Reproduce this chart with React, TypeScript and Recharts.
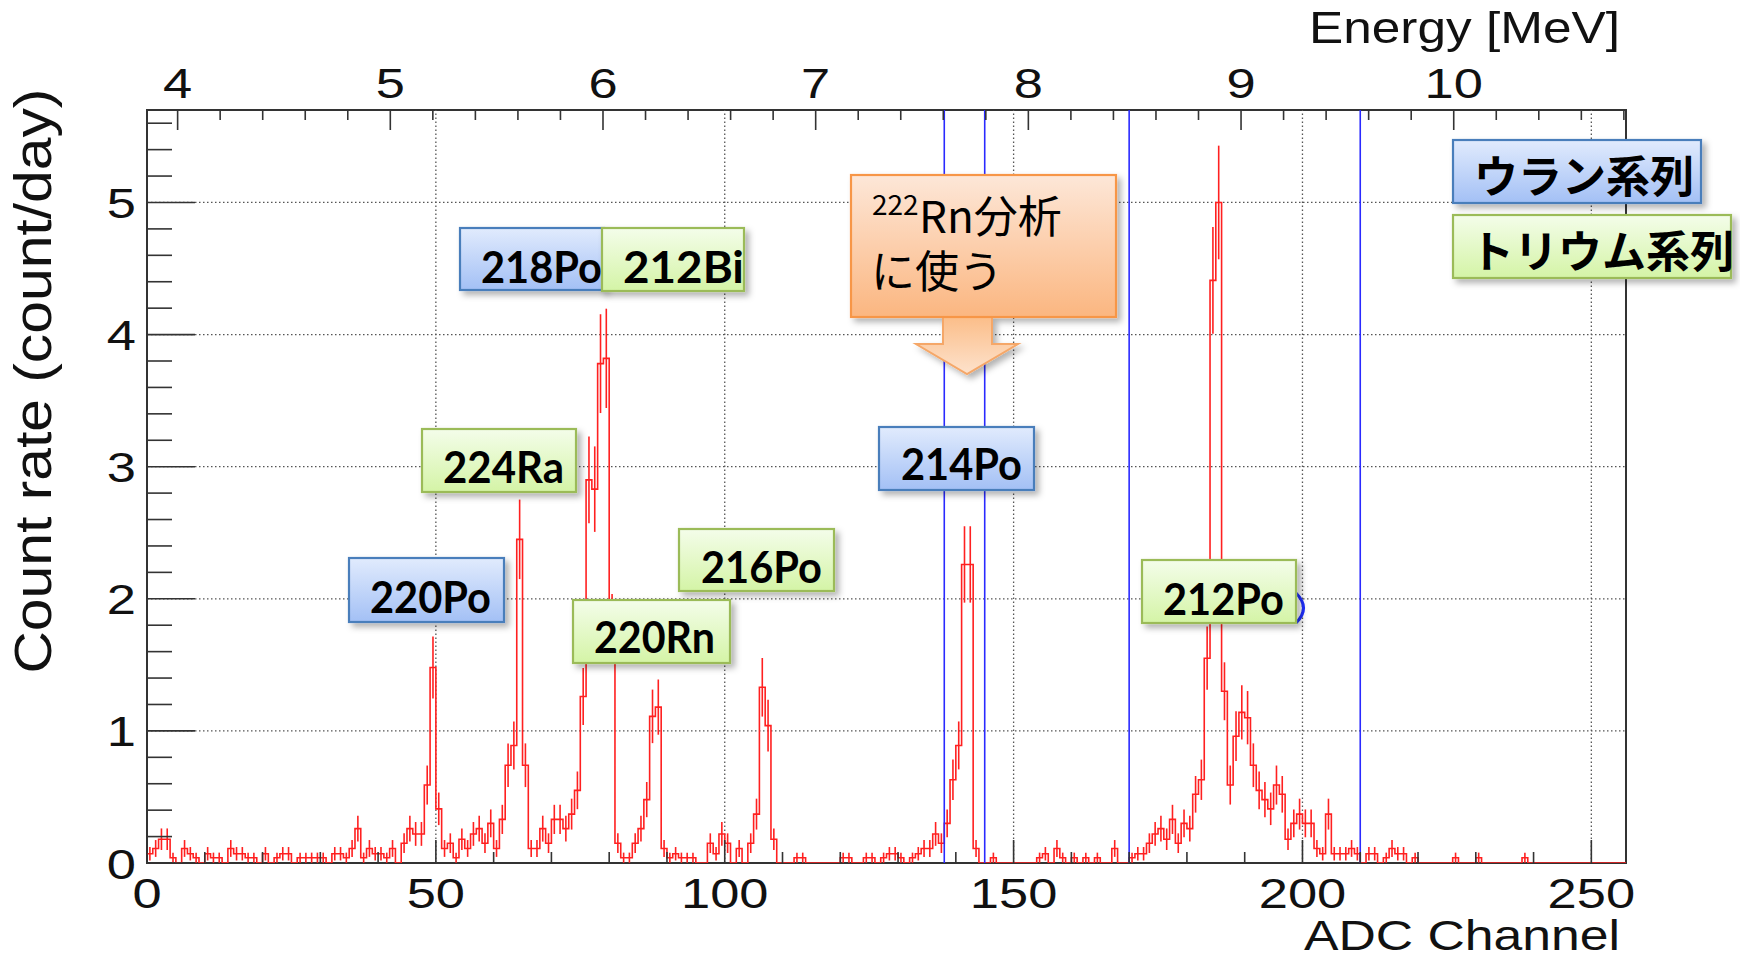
import React from 'react';
import {
  ComposedChart,
  Line,
  Scatter,
  ErrorBar,
  XAxis,
  YAxis,
  ReferenceLine,
  ReferenceArea,
} from 'recharts';

// ---- Data: count rate (count/day) per ADC channel bin ----
const ratesCh0to63 = [
  0.07, 0.11, 0.18, 0.18, 0.04, 0, 0.11, 0.07, 0.04, 0, 0.07, 0.04, 0.04, 0, 0.11, 0.07,
  0.07, 0.04, 0.04, 0, 0.07, 0, 0.04, 0.07, 0.07, 0, 0.04, 0.04, 0.04, 0.04, 0.04, 0,
  0.07, 0.07, 0.04, 0.11, 0.26, 0.04, 0.11, 0.07, 0.07, 0.04, 0.11, 0, 0.15, 0.26, 0.22, 0.22,
  0.59, 1.48, 0.41, 0.11, 0.15, 0.04, 0.18, 0.11, 0.22, 0.26, 0.15, 0.30, 0.11, 0.33, 0.74, 0.89,
];
const ratesCh64to127 = [
  2.45, 0.74, 0.11, 0.11, 0.26, 0.15, 0.33, 0.33, 0.26, 0.37, 0.55, 1.26, 2.90, 2.83, 3.78, 3.82,
  1.78, 0.15, 0.04, 0.04, 0.15, 0.26, 0.48, 1.11, 1.18, 0.11, 0.04, 0.07, 0.04, 0.04, 0.04, 0,
  0, 0.15, 0.07, 0.22, 0.15, 0, 0.11, 0, 0.15, 0.37, 1.33, 1.04, 0.18, 0, 0, 0,
  0.04, 0.04, 0, 0, 0, 0, 0, 0, 0.04, 0.04, 0, 0, 0.04, 0.04, 0, 0.04,
];
const ratesCh128to191 = [
  0.07, 0.07, 0.04, 0, 0.04, 0.07, 0.11, 0.11, 0.22, 0.15, 0.30, 0.63, 0.89, 2.26, 2.26, 0.11,
  0, 0, 0.04, 0, 0, 0, 0, 0, 0, 0, 0.04, 0.07, 0, 0.11, 0.04, 0,
  0.04, 0, 0.04, 0, 0.04, 0, 0, 0.11, 0, 0, 0.04, 0.07, 0.07, 0.15, 0.22, 0.26,
  0.18, 0.33, 0.15, 0.30, 0.26, 0.52, 0.63, 1.55, 4.41, 5.00, 1.30, 0.59, 0.96, 1.14, 1.10, 0.74,
];
const ratesCh192to255 = [
  0.55, 0.48, 0.41, 0.59, 0.52, 0.18, 0.30, 0.37, 0.30, 0.30, 0.11, 0.07, 0.37, 0.07, 0.07, 0.07,
  0.11, 0.07, 0, 0.07, 0.07, 0, 0.04, 0.11, 0.07, 0.07, 0, 0.04, 0, 0, 0, 0,
  0, 0, 0.04, 0, 0, 0, 0.04, 0, 0, 0, 0, 0, 0, 0, 0.04, 0,
  0, 0, 0, 0, 0, 0, 0, 0, 0, 0, 0, 0, 0, 0, 0, 0,
];

// one detected event corresponds to about this many count/day (Poisson error bars)
const rateOfOneEvent = 0.037;

// vertical selection lines (ADC channel)
const cutChannels = [138, 145, 170, 210];

// axes
const channelRange = [0, 256];
const channelTickLabels = [0, 50, 100, 150, 200, 250];
const channelGrid = [50, 100, 150, 200, 250];
const energyRange = [3.856, 10.81]; // energy [MeV] at channel 0 and at channel 256
const energyTickLabels = [4, 5, 6, 7, 8, 9, 10];
const rateRange = [0, 5.7];
const rateTickLabels = [0, 1, 2, 3, 4, 5];
const rateGrid = [1, 2, 3, 4, 5];

// ---- Derived tables ----
const binRates = [...ratesCh0to63, ...ratesCh64to127, ...ratesCh128to191, ...ratesCh192to255];
const histTable = [
  ...binRates.map((r, i) => ({ x: i, rate: r })),
  { x: binRates.length, rate: binRates[binRates.length - 1] },
];
const errTable = binRates
  .map((r, i) => ({ x: i + 0.5, rate: r, err: Math.sqrt(r * rateOfOneEvent) }))
  .filter((d) => d.rate > 0);

const channelTicks = Array.from({ length: 26 }, (_, i) => i * 10);
const mevPerChannel = (energyRange[1] - energyRange[0]) / (channelRange[1] - channelRange[0]);
const energyTicks = Array.from({ length: 35 }, (_, i) => +(4 + i * 0.2).toFixed(1));
// top (energy) axis drawn on the channel scale through the energy calibration
const energyTickChannels = energyTicks.map((e) => (e - energyRange[0]) / mevPerChannel);
const channelToEnergy = (ch: number) => +(energyRange[0] + ch * mevPerChannel).toFixed(1);
const rateTicks = Array.from({ length: 29 }, (_, i) => +(i * 0.2).toFixed(1));

const W = 1740;
const H = 961;
const axisFont = "'Liberation Sans', Arial, Helvetica, sans-serif";
const boxFont = "Lato, 'Noto Sans', 'Noto Sans CJK JP', sans-serif";
const cjkFont = "'Noto Sans CJK JP', 'Noto Sans', sans-serif";
const axisColor = '#333333';
const RED = '#ff2020';
const BLUE = '#2a2aff';

function ChannelTick(props: any) {
  const { x, y, payload } = props;
  const v = Number(payload.value);
  const major = channelTickLabels.includes(v);
  return (
    <g>
      <line x1={x} x2={x} y1={y} y2={y - (major ? 23 : 11)} stroke={axisColor} strokeWidth={1.6} />
      {major && (
        <text
          transform={`translate(${x},${y + 45}) scale(1.22,1)`}
          textAnchor="middle"
          fontSize={43}
          fontFamily={axisFont}
          fill="#111"
        >
          {v}
        </text>
      )}
    </g>
  );
}

function EnergyTick(props: any) {
  const { x, y, payload } = props;
  const e = channelToEnergy(Number(payload.value));
  const major = energyTickLabels.includes(e);
  return (
    <g>
      <line x1={x} x2={x} y1={y} y2={y + (major ? 20 : 10)} stroke={axisColor} strokeWidth={1.6} />
      {major && (
        <text
          transform={`translate(${x},${y - 12}) scale(1.22,1)`}
          textAnchor="middle"
          fontSize={43}
          fontFamily={axisFont}
          fill="#111"
        >
          {e}
        </text>
      )}
    </g>
  );
}

function RateTick(props: any) {
  const { x, y, payload } = props;
  const v = Number(payload.value);
  const major = rateTickLabels.includes(v);
  return (
    <g>
      <line x1={x} x2={x + (major ? 48 : 25)} y1={y} y2={y} stroke={axisColor} strokeWidth={1.6} />
      {major && (
        <text
          transform={`translate(${x - 11},${y + 15.5}) scale(1.22,1)`}
          textAnchor="end"
          fontSize={43}
          fontFamily={axisFont}
          fill="#111"
        >
          {v}
        </text>
      )}
    </g>
  );
}

type Box = {
  label: string;
  kind: 'blue' | 'green';
  x: number;
  y: number;
  w: number;
  h: number;
  tx: number;
  ty: number;
  cjk?: boolean;
};

const boxes: Box[] = [
  { label: '218Po', kind: 'blue', x: 460, y: 228, w: 144, h: 62, tx: 481, ty: 283 },
  { label: '212Bi', kind: 'green', x: 602, y: 228, w: 142, h: 63, tx: 623, ty: 283 },
  { label: '224Ra', kind: 'green', x: 422, y: 429, w: 154, h: 63, tx: 443, ty: 483 },
  { label: '220Po', kind: 'blue', x: 349, y: 558, w: 155, h: 64, tx: 370, ty: 613 },
  { label: '216Po', kind: 'green', x: 679, y: 529, w: 155, h: 62, tx: 701, ty: 583 },
  { label: '220Rn', kind: 'green', x: 573, y: 600, w: 157, h: 63, tx: 594, ty: 653 },
  { label: '214Po', kind: 'blue', x: 879, y: 427, w: 155, h: 63, tx: 901, ty: 480 },
  { label: '212Po', kind: 'green', x: 1142, y: 560, w: 154, h: 63, tx: 1163, ty: 615 },
  { label: 'ウラン系列', kind: 'blue', x: 1453, y: 140, w: 248, h: 63, tx: 1474, ty: 193, cjk: true },
  { label: 'トリウム系列', kind: 'green', x: 1453, y: 215, w: 278, h: 63, tx: 1470, ty: 268, cjk: true },
];

function Overlay() {
  return (
    <svg
      width={W}
      height={H}
      style={{ position: 'absolute', left: 0, top: 0, pointerEvents: 'none' }}
    >
      <defs>
        <linearGradient id="gBlue" x1="0" y1="0" x2="0" y2="1">
          <stop offset="0" stopColor="#e1ebfd" />
          <stop offset="1" stopColor="#a3c0f5" />
        </linearGradient>
        <linearGradient id="gGreen" x1="0" y1="0" x2="0" y2="1">
          <stop offset="0" stopColor="#f4fdea" />
          <stop offset="1" stopColor="#d4f4a6" />
        </linearGradient>
        <linearGradient id="gOrange" x1="0" y1="0" x2="0" y2="1">
          <stop offset="0" stopColor="#fde7d8" />
          <stop offset="1" stopColor="#fbb680" />
        </linearGradient>
        <linearGradient id="gArrow" x1="0" y1="0" x2="0" y2="1">
          <stop offset="0" stopColor="#fbbd88" />
          <stop offset="1" stopColor="#fde2cc" />
        </linearGradient>
        <filter id="shadow" x="-10%" y="-10%" width="130%" height="140%">
          <feDropShadow dx="4" dy="4" stdDeviation="3" floodColor="#000" floodOpacity="0.3" />
        </filter>
      </defs>

      {/* axis titles */}
      <text
        x={1309}
        y={43}
        fontSize={45}
        fontFamily={axisFont}
        textLength={311}
        lengthAdjust="spacingAndGlyphs"
        fill="#111"
      >
        Energy [MeV]
      </text>
      <text
        x={1304}
        y={950}
        fontSize={43}
        fontFamily={axisFont}
        textLength={316}
        lengthAdjust="spacingAndGlyphs"
        fill="#111"
      >
        ADC Channel
      </text>
      <text
        transform="translate(51,673.6) rotate(-90)"
        x={0}
        y={0}
        fontSize={51}
        fontFamily={axisFont}
        textLength={585}
        lengthAdjust="spacingAndGlyphs"
        fill="#111"
      >
        Count rate (count/day)
      </text>

      {/* small blue arc peeking out of the 212Po box */}
      <path d="M1296,593 Q1311,608 1296,623" fill="none" stroke="#1f2fff" strokeWidth={3} />

      {/* label boxes */}
      {boxes.map((b) => (
        <g key={b.label}>
          <rect
            x={b.x}
            y={b.y}
            width={b.w}
            height={b.h}
            fill={b.kind === 'blue' ? 'url(#gBlue)' : 'url(#gGreen)'}
            stroke={b.kind === 'blue' ? '#4a7ebb' : '#9bbb59'}
            strokeWidth={2.2}
            filter="url(#shadow)"
          />
          <text
            x={b.tx}
            y={b.ty}
            fontSize={44}
            fontWeight={700}
            fontFamily={b.cjk ? cjkFont : boxFont}
            textLength={b.cjk ? undefined : 121}
            lengthAdjust={b.cjk ? undefined : 'spacingAndGlyphs'}
            fill="#000"
          >
            {b.label}
          </text>
        </g>
      ))}

      {/* orange callout + arrow */}
      <g filter="url(#shadow)">
        <path
          d="M943,316 L943,344 L916,344 L967,374 L1018,344 L992,344 L992,316 Z"
          fill="url(#gArrow)"
          stroke="#f5a768"
          strokeWidth={2}
        />
        <rect x={851} y={175} width={265} height={142} fill="url(#gOrange)" stroke="#f79646" strokeWidth={2.2} />
      </g>
      <text x={872} y={215} fontSize={28} fontFamily={cjkFont} fill="#000">
        222
      </text>
      <text x={919} y={233} fontSize={44} fontFamily={cjkFont} fill="#000">
        Rn分析
      </text>
      <text x={871} y={288} fontSize={44} fontFamily={cjkFont} fill="#000">
        に使う
      </text>
    </svg>
  );
}

export default function App() {
  return (
    <div
      style={{
        position: 'absolute',
        left: 0,
        top: 0,
        width: W,
        height: H,
        background: '#fff',
        fontFamily: axisFont,
        overflow: 'hidden',
      }}
    >
      <ComposedChart
        width={W}
        height={H}
        data={histTable}
        margin={{ top: 80, right: 114, bottom: 68, left: 87 }}
      >
        <XAxis
          xAxisId="ch"
          dataKey="x"
          type="number"
          domain={channelRange}
          allowDataOverflow
          ticks={channelTicks}
          interval={0}
          tick={<ChannelTick />}
          tickLine={false}
          axisLine={false}
          tickSize={0}
          tickMargin={0}
          height={30}
          orientation="bottom"
        />
        <XAxis
          xAxisId="top"
          dataKey="x"
          type="number"
          domain={channelRange}
          allowDataOverflow
          ticks={energyTickChannels}
          interval={0}
          tick={<EnergyTick />}
          tickLine={false}
          axisLine={false}
          tickSize={0}
          tickMargin={0}
          height={30}
          orientation="top"
        />
        <YAxis
          type="number"
          domain={rateRange}
          allowDataOverflow
          ticks={rateTicks}
          interval={0}
          tick={<RateTick />}
          tickLine={false}
          axisLine={false}
          tickSize={0}
          tickMargin={0}
          width={60}
        />

        {rateGrid.map((v) => (
          <ReferenceLine
            key={'gy' + v}
            xAxisId="ch"
            y={v}
            stroke="#555"
            strokeWidth={1.3}
            strokeDasharray="1.5 2.5"
          />
        ))}
        {channelGrid.map((v) => (
          <ReferenceLine
            key={'gx' + v}
            xAxisId="ch"
            x={v}
            stroke="#555"
            strokeWidth={1.3}
            strokeDasharray="1.5 2.5"
          />
        ))}

        {/* invisible copy tying the top (energy) axis to the same channel data */}
        <Line
          xAxisId="top"
          type="stepAfter"
          dataKey="rate"
          stroke="none"
          strokeOpacity={0}
          dot={false}
          activeDot={false}
          isAnimationActive={false}
        />
        <Line
          xAxisId="ch"
          type="stepAfter"
          dataKey="rate"
          stroke={RED}
          strokeWidth={1.6}
          dot={false}
          activeDot={false}
          isAnimationActive={false}
        />
        <Scatter
          xAxisId="ch"
          data={errTable}
          dataKey="rate"
          shape={() => <g />}
          isAnimationActive={false}
        >
          <ErrorBar
            dataKey="err"
            direction="y"
            width={0}
            stroke={RED}
            strokeWidth={1.6}
            isAnimationActive={false}
          />
        </Scatter>

        {cutChannels.map((c) => (
          <ReferenceLine key={'cut' + c} xAxisId="ch" x={c} stroke={BLUE} strokeWidth={1.6} />
        ))}

        <ReferenceArea
          xAxisId="ch"
          x1={channelRange[0]}
          x2={channelRange[1]}
          y1={rateRange[0]}
          y2={rateRange[1]}
          fill="none"
          fillOpacity={0}
          stroke={axisColor}
          strokeWidth={2}
        />
      </ComposedChart>
      <Overlay />
    </div>
  );
}
